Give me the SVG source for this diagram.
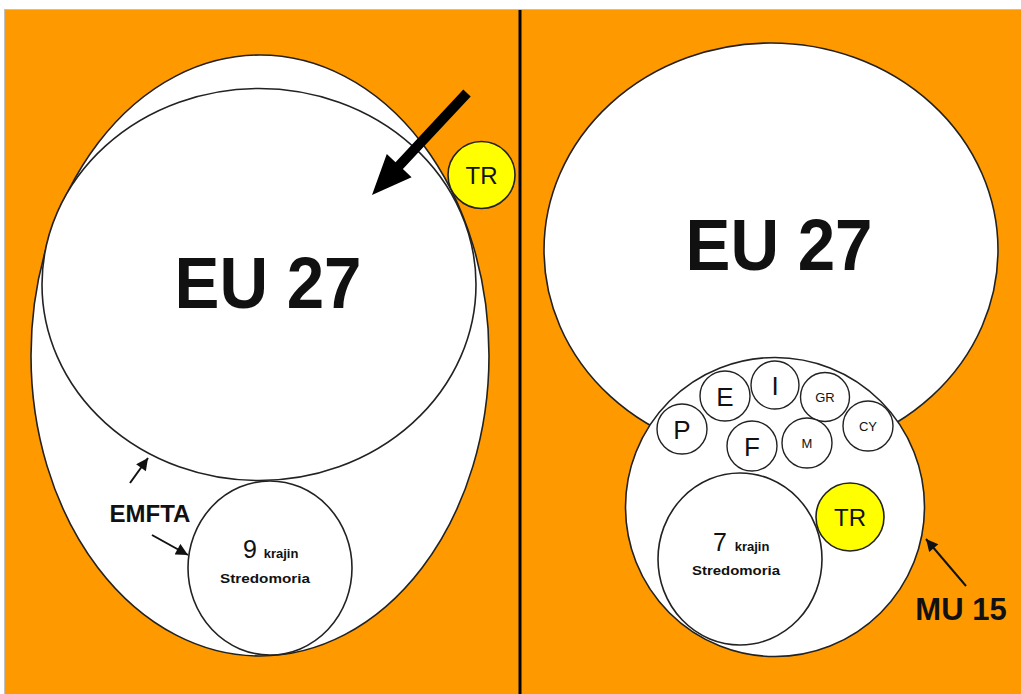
<svg xmlns="http://www.w3.org/2000/svg" width="1021" height="694" viewBox="0 0 1021 694">
<style>
.w{fill:#fff;stroke:#222;stroke-width:1.6}
.y{fill:#ffff00;stroke:#222;stroke-width:1.6}
.sm{fill:#fff;stroke:#222;stroke-width:1.4}
text{font-family:"Liberation Sans",Arial,sans-serif;fill:#111;text-anchor:middle}
.big{font-size:72px;font-weight:bold}
.tr{font-size:24px}
.let{font-size:26px}
.tiny{font-size:13px}
.lbl{font-weight:bold}
.thin{stroke:#111;stroke-width:2;marker-end:url(#ah)}
</style>
<defs>
<marker id="ah" viewBox="0 0 10 10" refX="10" refY="5" markerWidth="6.5" markerHeight="6" orient="auto" markerUnits="strokeWidth">
<path d="M0,0 L10,5 L0,10 z" fill="#111"/>
</marker>
</defs>
<rect x="0" y="0" width="1021" height="694" fill="#fff"/>
<rect x="4.5" y="9.5" width="1020" height="690" fill="#ff9900" stroke="#c0c0c0" stroke-width="1"/>
<line x1="520" y1="10" x2="520" y2="694" stroke="#000" stroke-width="3"/>

<g id="emfta-area"><ellipse class="w" cx="260" cy="355.5" rx="229" ry="300.5"/></g>
<g id="eu27-left"><ellipse class="w" cx="259" cy="284.5" rx="217" ry="196" fill="none"/>
<text class="big" x="268" y="308" textLength="187" lengthAdjust="spacingAndGlyphs">EU 27</text></g>
<g id="med9"><ellipse class="w" cx="270" cy="568" rx="82" ry="87"/>
<text x="250" y="558" style="font-size:25px">9</text>
<text x="281" y="558" class="lbl" style="font-size:13px">krajin</text>
<text x="265" y="583" class="lbl" style="font-size:13px" textLength="90" lengthAdjust="spacingAndGlyphs">Stredomoria</text></g>
<g id="tr-left"><circle class="y" cx="481.5" cy="175" r="33.5"/><text class="tr" x="481.5" y="183.5">TR</text></g>
<g id="emfta-label"><text class="lbl" x="150" y="522" style="font-size:24px">EMFTA</text></g>

<g id="eu27-right"><ellipse class="w" cx="771" cy="250" rx="227" ry="207"/>
<text class="big" x="779" y="270" textLength="187" lengthAdjust="spacingAndGlyphs">EU 27</text></g>
<g id="mu15"><circle class="w" cx="775" cy="507" r="149.5"/></g>
<g id="P"><circle class="sm" cx="682" cy="429" r="25"/><text class="let" x="682" y="438.5">P</text></g>
<g id="E"><circle class="sm" cx="725" cy="396" r="25"/><text class="let" x="725" y="405.5">E</text></g>
<g id="I"><circle class="sm" cx="775" cy="385" r="24"/><text class="let" x="775" y="394.5">I</text></g>
<g id="GR"><circle class="sm" cx="825" cy="397" r="24.5"/><text class="tiny" x="825" y="402">GR</text></g>
<g id="CY"><circle class="sm" cx="868" cy="426" r="25"/><text class="tiny" x="868" y="431">CY</text></g>
<g id="F"><circle class="sm" cx="752" cy="446" r="25"/><text class="let" x="752" y="455.5">F</text></g>
<g id="M"><circle class="sm" cx="807" cy="443" r="25"/><text class="tiny" x="807" y="448">M</text></g>
<g id="med7"><ellipse class="w" cx="740" cy="559" rx="82" ry="86"/>
<text x="720" y="551" style="font-size:25px">7</text>
<text x="752" y="551" class="lbl" style="font-size:13px">krajin</text>
<text x="736" y="575" class="lbl" style="font-size:13px" textLength="88" lengthAdjust="spacingAndGlyphs">Stredomoria</text></g>
<g id="tr-right"><circle class="y" cx="850" cy="517" r="34"/><text class="tr" x="850" y="526">TR</text></g>
<g id="mu15-label"><text class="lbl" x="961" y="620" style="font-size:31px">MU 15</text></g>

<g id="connectors">
<polygon points="463.3,89.6 395.5,162.3 386.8,154.1 372,195 411.6,177.3 402.9,169.1 470.7,96.4" fill="#000"/>
<line class="thin" x1="130" y1="483" x2="148" y2="458"/>
<line class="thin" x1="152" y1="535" x2="188" y2="555"/>
<line class="thin" x1="966" y1="586" x2="926" y2="539"/>
</g>
</svg>
